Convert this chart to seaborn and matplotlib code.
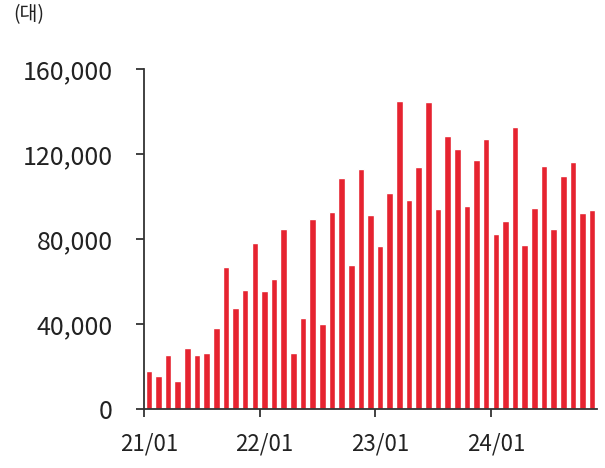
import matplotlib
matplotlib.use("Agg")
import matplotlib.pyplot as plt
import seaborn as sns
import pandas as pd
import numpy as np

months = [f"{y:02d}/{m:02d}" for y in range(21, 25) for m in range(1, 13)][:47]
values = [17700, 15500, 25500, 13300, 28800, 25500, 26200, 38100, 66800, 47500, 56100, 78300,
          55500, 61100, 84900, 26300, 42800, 89300, 39800, 92500, 108600, 68000, 113000, 91400,
          76500, 101700, 144900, 98300, 113800, 144500, 94300, 128300, 122200, 95600, 117100, 127200,
          82300, 88700, 132700, 77100, 94600, 114200, 84600, 109500, 116300, 92100, 93700]
xtick_labels = ["21/01", "22/01", "23/01", "24/01"]
ytick_values = [0, 40000, 80000, 120000, 160000]
unit_label = "(대)"

sns.set_theme(style="white")
plt.rcParams['font.family'] = ['Noto Sans CJK KR', 'DejaVu Sans']

df = pd.DataFrame({"month": months, "value": values})

fig = plt.figure(figsize=(6.05, 4.68), dpi=100)
ax = fig.add_axes([144/605, 1-409/468, (597-144)/605, (409-69)/468])
sns.barplot(data=df, x="month", y="value", color="#E62330", width=0.68,
            saturation=1, ax=ax, order=months)

ax.set_xlim(-0.5, len(months) - 0.5)
ax.set_ylim(0, 160000)
ax.set_yticks(ytick_values)
ax.set_yticklabels([f"{v:,}" for v in ytick_values], fontsize=18, color="#222222")

label_pos = [months.index(l) for l in xtick_labels]
ax.set_xticks(label_pos)
ax.set_xticklabels(xtick_labels, fontsize=16, color="#222222")
ax.set_xticks([p - 0.5 for p in label_pos], minor=True)
ax.tick_params(axis="x", which="major", length=0, pad=17)
ax.tick_params(axis="x", which="minor", length=5.5, width=1.3, color="#333333", direction="out", bottom=True)
ax.tick_params(axis="y", which="major", length=5.5, width=1.3, color="#333333", direction="out", pad=17, left=True)

ax.set_xlabel("")
ax.set_ylabel("")
for s in ["top", "right"]:
    ax.spines[s].set_visible(False)
for s in ["left", "bottom"]:
    ax.spines[s].set_color("#333333")
    ax.spines[s].set_linewidth(1.3)

fig.text(13/605, 1-15/468, unit_label, fontsize=14, color="#222222", va="center", ha="left")

fig.savefig("out.png", dpi=100)
